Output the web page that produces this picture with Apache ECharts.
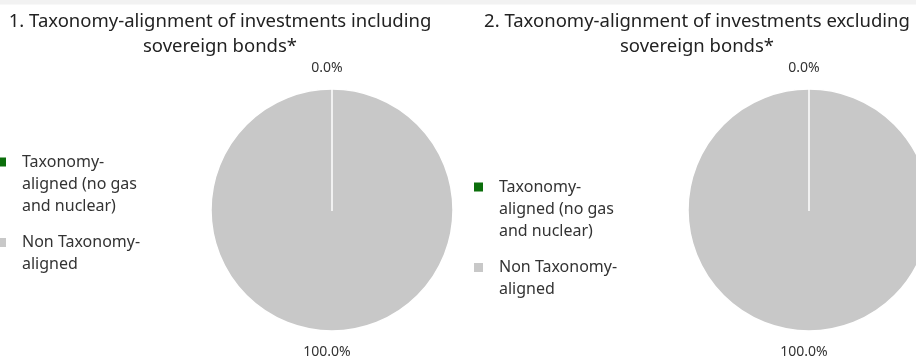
<!DOCTYPE html>
<html>
<head>
<meta charset="utf-8">
<script src="https://cdn.jsdelivr.net/npm/echarts@6/dist/echarts.min.js"></script>
<style>html,body{margin:0;padding:0;background:#fff}#c{width:916px;height:362px}</style>
</head>
<body>
<div id="c"></div>
<script>
const categories = ['Taxonomy-aligned (no gas and nuclear)', 'Non Taxonomy-aligned'];
const legendLabels = ['Taxonomy-\naligned (no gas\nand nuclear)', 'Non Taxonomy-\naligned'];
const chartTitles = ['1. Taxonomy-alignment of investments including\nsovereign bonds*',
                     '2. Taxonomy-alignment of investments excluding\nsovereign bonds*'];
const valuesIncluding = [0, 100];
const valuesExcluding = [0, 100];
const colors = ['#0b6e0b', '#c8c8c8'];

const FONT = '"Noto Sans", sans-serif';
const LH = 22;
const PIE_R = 121;
const PIE_CENTERS = [[332, 210], [809, 210]];
// legend icons: square aligned with the first text line (invisible points stretch the icon box)
const legendIcons = [
  'path://M0,0h9v9h-9z M19.99,53L20,53',
  'path://M0,0L0.01,0 M0,11h9v9h-9z M19.99,53L20,53'
];

function legend(left, top) {
  return {
    orient: 'vertical', left: left, top: top, padding: 0,
    itemWidth: 20, itemHeight: 53, itemGap: 10,
    selectedMode: false,
    itemStyle: { borderWidth: 0 },
    data: categories.map((n, i) => ({ name: n, icon: legendIcons[i] })),
    formatter: n => legendLabels[categories.indexOf(n)],
    textStyle: { fontFamily: FONT, fontSize: 16, lineHeight: LH, color: '#333' }
  };
}
function pie(center, vals) {
  return {
    type: 'pie', center: center, radius: PIE_R, startAngle: 90, clockwise: true,
    avoidLabelOverlap: false, silent: true,
    itemStyle: { borderColor: '#fff', borderWidth: 1.5 },
    label: { position: 'outside', fontFamily: FONT, fontSize: 14, color: '#333',
      formatter: p => p.percent.toFixed(1) + '%' },
    labelLine: { show: false, length: 21, length2: 0 },
    labelLayout: () => ({ align: 'center' }),
    data: categories.map((n, i) => ({ name: n, value: vals[i], itemStyle: { color: colors[i] } }))
  };
}
const titleStyle = { fontFamily: FONT, fontSize: 18.5, fontWeight: 'normal', color: '#222', lineHeight: 25 };
const chart = echarts.init(document.getElementById('c'), null, { renderer: 'canvas' });
chart.setOption({
  animation: false,
  title: [
    { text: chartTitles[0], left: 220, top: 9, padding: 0, textAlign: 'center', textStyle: titleStyle },
    { text: chartTitles[1], left: 697, top: 9, padding: 0, textAlign: 'center', textStyle: titleStyle }
  ],
  legend: [legend(-3, 151), legend(474, 176)],
  graphic: [
    { type: 'rect', left: 0, top: 0, shape: { width: 916, height: 4.5 }, style: { fill: '#f2f2f2' }, silent: true },
    ...PIE_CENTERS.map(c => ({ type: 'line', z: 100, silent: true,
      shape: { x1: c[0], y1: c[1] - PIE_R, x2: c[0], y2: c[1] + 1 },
      style: { stroke: '#fff', lineWidth: 1.5 } }))
  ],
  series: [pie(PIE_CENTERS[0], valuesIncluding), pie(PIE_CENTERS[1], valuesExcluding)]
});
</script>
</body>
</html>
